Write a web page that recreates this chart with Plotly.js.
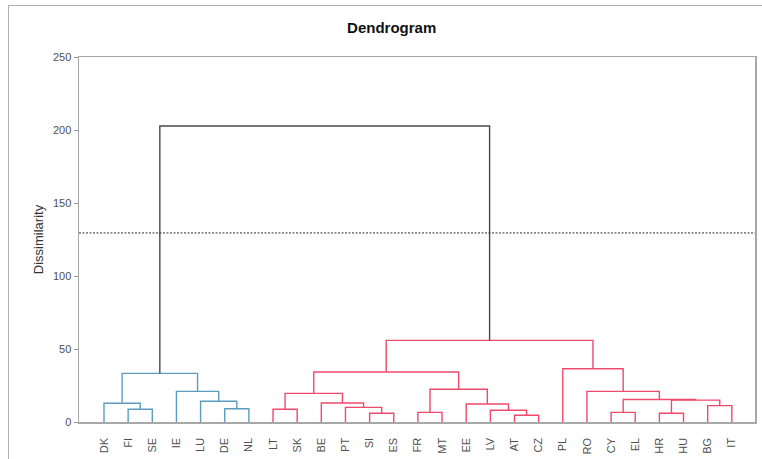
<!DOCTYPE html>
<html><head><meta charset="utf-8">
<script src="https://cdn.plot.ly/plotly-3.0.1.min.js"></script>
<style>
html,body{margin:0;padding:0;background:#fff;overflow:hidden;}
#chart{width:762px;height:459px;}
#frame{position:absolute;left:8px;top:5px;width:800px;height:500px;border:1px solid #b0b0b0;pointer-events:none;}
</style>
</head><body>
<div id="chart"></div><div id="frame"></div>
<script>
// Leaves in dendrogram order
const leaves = ['DK','FI','SE','IE','LU','DE','NL','LT','SK','BE','PT','SI','ES','FR','MT','EE','LV','AT','CZ','PL','RO','CY','EL','HR','HU','BG','IT'];
// Linkage: node ids 0..26 are leaves, merge k creates node 27+k
const mergeA = [1, 0, 5, 4, 3, 28, 7, 11, 10, 9, 33, 13, 17, 16, 15, 38, 37, 21, 23, 25, 45, 44, 20, 19, 43, 32];
const mergeB = [2, 27, 6, 29, 30, 31, 8, 12, 34, 35, 36, 14, 18, 39, 40, 41, 42, 22, 24, 26, 46, 47, 48, 49, 50, 51];
const mergeHeight = [8.7, 12.8, 9.1, 14.2, 21.0, 33.3, 8.7, 6.0, 10.0, 13.0, 19.6, 6.6, 4.6, 8.0, 12.3, 22.4, 34.2, 6.6, 6.0, 11.2, 15.0, 15.4, 21.0, 36.5, 55.9, 202.7];
const cutHeight = 129.5;
const yTickVals = [0, 50, 100, 150, 200, 250];

const clusterPalette = ['#5b9cbf', '#ef4a6c'];
const topColor = '#4a4a4a';

const n = leaves.length;
const nx = [], ny = [], parent = [];
for (let i = 0; i < n; i++) { nx[i] = i; ny[i] = 0; }
mergeHeight.forEach((h, k) => {
  const a = mergeA[k], b = mergeB[k];
  nx[n + k] = (nx[a] + nx[b]) / 2;
  ny[n + k] = h;
  parent[a] = n + k; parent[b] = n + k;
});
function rootOf(id) {
  while (parent[id] !== undefined && ny[parent[id]] < cutHeight) id = parent[id];
  return id;
}
const roots = [];
mergeHeight.forEach((h, k) => {
  if (h < cutHeight) { const r = rootOf(n + k); if (!roots.includes(r)) roots.push(r); }
});
roots.sort((p, q) => nx[p] - nx[q]);
const groups = {};
mergeHeight.forEach((h, k) => {
  const color = h < cutHeight ? clusterPalette[roots.indexOf(rootOf(n + k)) % clusterPalette.length] : topColor;
  if (!groups[color]) groups[color] = {x: [], y: []};
  const a = mergeA[k], b = mergeB[k];
  groups[color].x.push(nx[a], nx[a], nx[b], nx[b], null);
  groups[color].y.push(ny[a], h, h, ny[b], null);
});
const traces = Object.keys(groups).map(c => ({
  type: 'scatter', mode: 'lines', x: groups[c].x, y: groups[c].y,
  line: {color: c, width: 1.4}, hoverinfo: 'skip', showlegend: false
}));

const layout = {
  width: 762, height: 459,
  margin: {l: 79, r: 7, t: 57, b: 37},
  paper_bgcolor: 'rgba(0,0,0,0)', plot_bgcolor: '#fff',
  font: {family: 'Liberation Sans, Arial, sans-serif', color: '#404040'},
  title: {text: 'Dendrogram', font: {size: 15, color: '#111', weight: 'bold'}, x: 0.514, xref: 'container', y: 0.94, yref: 'container', xanchor: 'center', yanchor: 'middle'},
  xaxis: {
    range: [-1.035, 26.96], tickvals: leaves.map((_, i) => i), ticktext: leaves,
    tickangle: -90, tickfont: {size: 11, color: '#505050'}, ticks: '', ticklabelstandoff: 10,
    showgrid: false, zeroline: false, showline: true, linecolor: '#a8a8a8', linewidth: 1.5, mirror: true
  },
  yaxis: {
    range: [0, 250], tickvals: yTickVals, ticks: 'outside', ticklen: 4, tickcolor: '#999',
    tickfont: {size: 11, color: '#505050'},
    title: {text: 'Dissimilarity', font: {size: 13, color: '#333'}, standoff: 6},
    showgrid: false, zeroline: true, zerolinecolor: '#555', zerolinewidth: 1.5,
    showline: true, linecolor: '#a8a8a8', linewidth: 1.5, mirror: true, automargin: false
  },
  shapes: [{type: 'line', xref: 'paper', x0: 0, x1: 1, yref: 'y', y0: cutHeight, y1: cutHeight, line: {color: '#333', width: 1, dash: '2px,1.5px'}}]
};
Plotly.newPlot('chart', traces, layout, {displayModeBar: false, staticPlot: true});
</script>
</body></html>
